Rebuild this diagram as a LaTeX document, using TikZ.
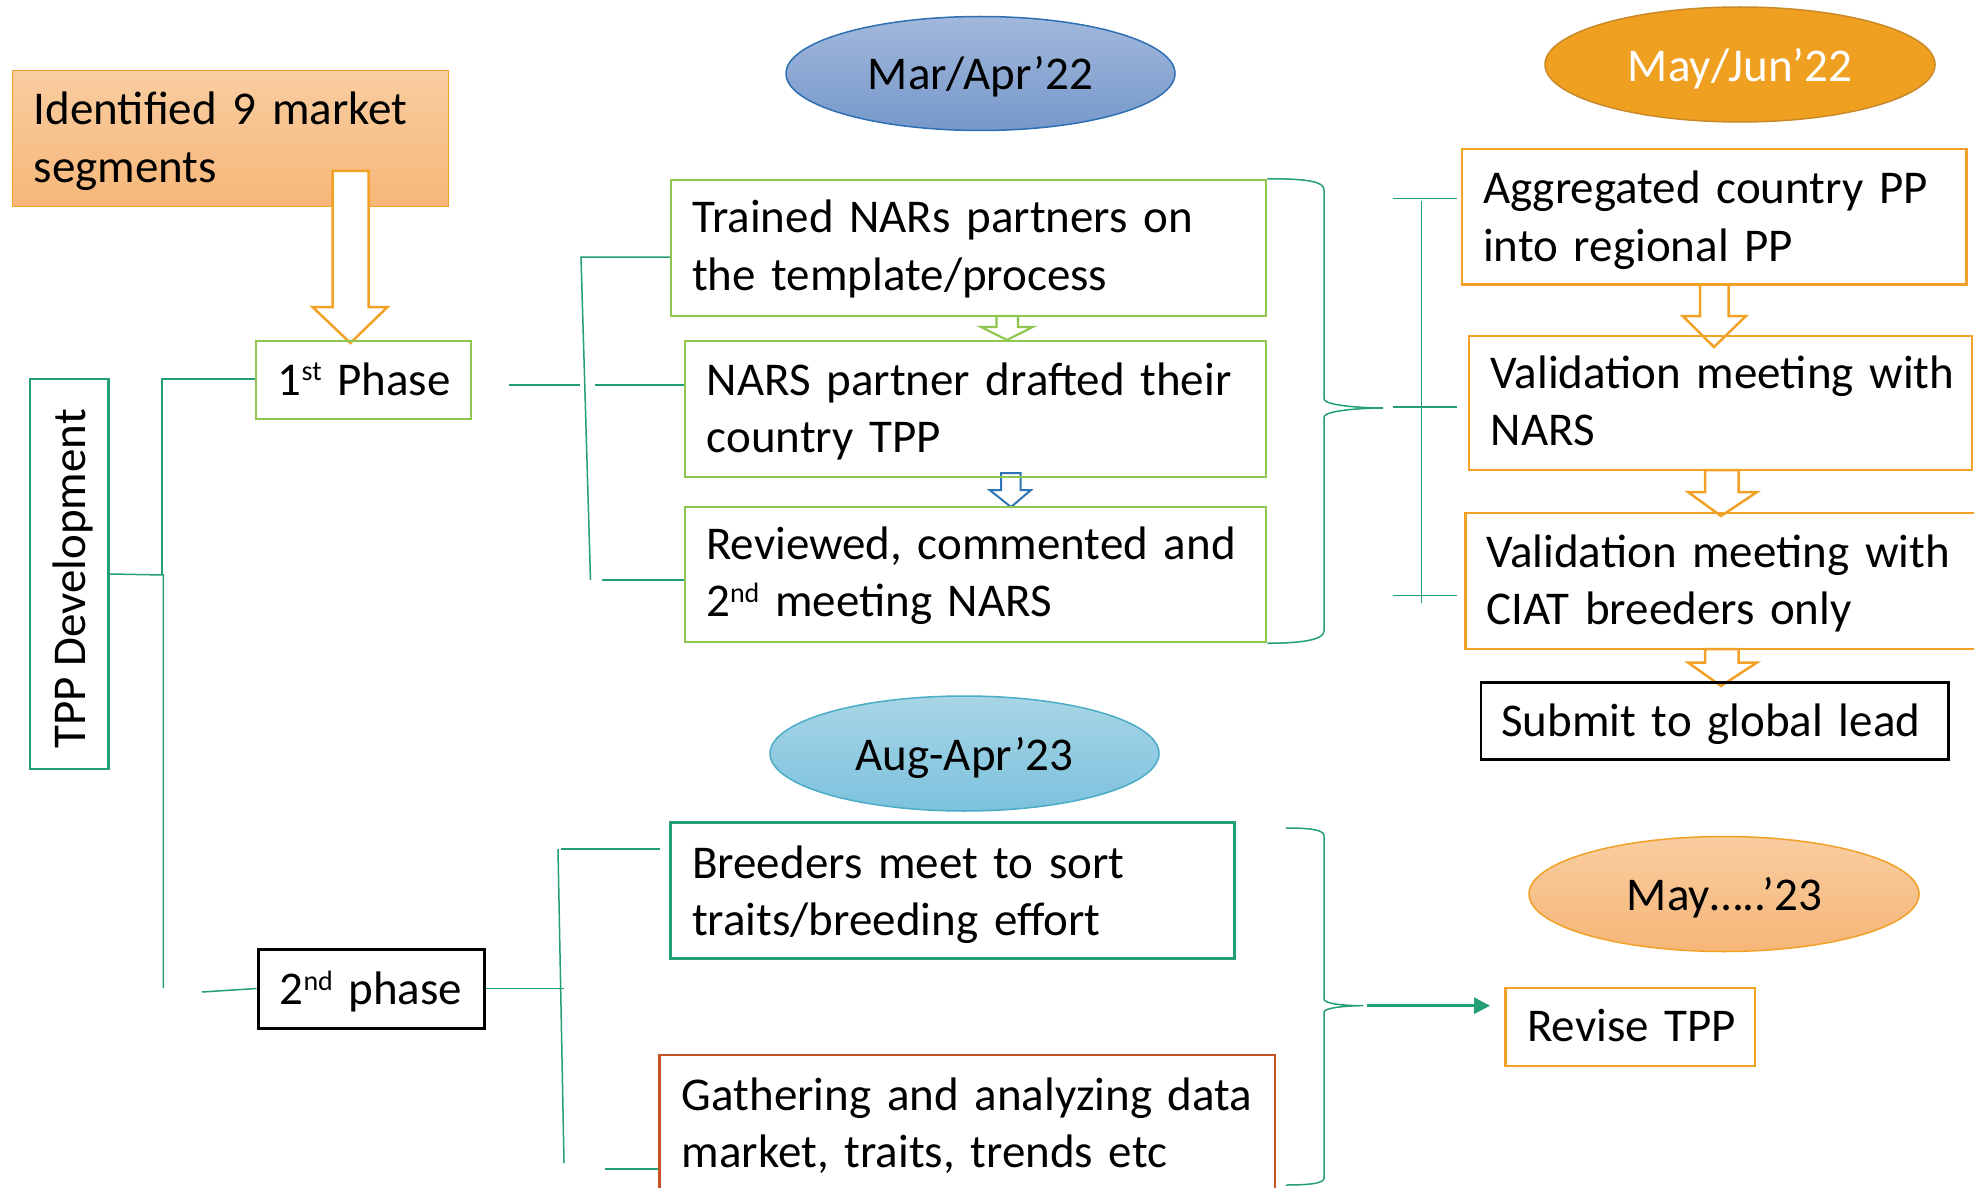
\documentclass[tikz,border=0pt]{standalone}
\usepackage{fontspec}
\setmainfont{Carlito}
\usetikzlibrary{shapes.geometric,arrows.meta,calc}

\definecolor{lnteal}{RGB}{36,158,118}
\definecolor{bxgreen}{RGB}{142,198,78}
\definecolor{bxorange}{RGB}{242,161,39}
\definecolor{bxred}{RGB}{196,84,35}
\definecolor{arblue}{RGB}{46,117,182}
\definecolor{peachtop}{RGB}{249,205,160}
\definecolor{peachbot}{RGB}{246,182,120}
\definecolor{mjfill}{RGB}{240,160,32}
\definecolor{mjline}{RGB}{200,138,40}
\definecolor{matop}{RGB}{162,184,220}
\definecolor{mabot}{RGB}{118,152,202}
\definecolor{maline}{RGB}{47,112,180}
\definecolor{augtop}{RGB}{168,213,229}
\definecolor{augbot}{RGB}{124,194,222}
\definecolor{augline}{RGB}{75,172,198}

\newcommand\dgfont{\fontsize{47}{57.5}\selectfont}
\newcommand\supx[2]{\raisebox{#1pt}{\fontsize{28}{28}\selectfont #2}}
% outlined block arrow: style, shaft left/right, head left/right, top y, neck y, tip x, tip y
\newcommand\blockarrow[9]{%
  \draw[#1] (#2,#6) -- (#3,#6) -- (#3,#7) -- (#5,#7) -- (#8,#9) -- (#4,#7) -- (#2,#7) -- cycle;}

\begin{document}
\begin{tikzpicture}[x=1pt,y=-1pt,font=\dgfont,
  box/.style={draw,rectangle,inner sep=0pt,line width=2.5pt},
  oval/.style={draw,ellipse,inner sep=0pt,line width=1.5pt,minimum width=389pt,minimum height=114pt},
  tx/.style={anchor=base west,inner sep=0pt,text width=620pt,align=left},
  ctx/.style={anchor=base,inner sep=0pt},
  conn/.style={draw=lnteal,line width=1.5pt},
  barrow/.style={fill=white,line width=2.5pt,line join=miter}]
\useasboundingbox (0,0) rectangle (1974,1188);
\fill[white] (0,0) rectangle (1974,1188);

% date ovals
\node[oval,draw=maline,top color=matop,bottom color=mabot] (marapr) at (980.5,73.5) {};
\node[ctx] (marapr-t) at (980.5,90) {Mar/Apr’22};
\node[oval,draw=mjline,fill=mjfill,minimum width=390pt,minimum height=115pt] (mayjun) at (1740,64.5) {};
\node[ctx,text=white] (mayjun-t) at (1740,82) {May/Jun’22};
\node[oval,draw=augline,top color=augtop,bottom color=augbot,minimum height=115pt] (augapr) at (964.5,753.5) {};
\node[ctx] (augapr-t) at (964.5,770) {Aug-Apr’23};
\node[oval,draw=bxorange,top color=peachtop,bottom color=peachbot,minimum width=390pt,minimum height=115pt] (may23) at (1724,894) {};
\node[ctx] (may23-t) at (1724.5,910) {May…..’23};

% market segments
\node[box,line width=1.5pt,draw=bxorange,top color=peachtop,bottom color=peachbot,
  minimum width=436pt,minimum height=136pt] (seg) at (230.5,138.7) {};
\node[tx] (seg-t) at (33.5,125) {Identified 9 market\\segments};

% block arrows
\blockarrow{barrow,draw=bxorange}{332.6}{368.7}{312.5}{387.5}{171}{307}{350.4}{343}
\blockarrow{barrow,draw=bxgreen,line width=2.2pt}{996.5}{1018}{981}{1032.7}{316}{327}{1007}{340}
\blockarrow{barrow,draw=arblue,line width=2pt}{1001}{1020.6}{989.6}{1031}{473}{490}{1011}{507}
\blockarrow{barrow,draw=bxorange}{1700}{1728.7}{1682.7}{1746}{284.5}{316}{1714}{347}
\blockarrow{barrow,draw=bxorange}{1705}{1738.6}{1688}{1757}{470}{492}{1721}{516}
\blockarrow{barrow,draw=bxorange}{1705}{1738.6}{1688}{1757}{649}{662.5}{1721}{686}

% left column
\node[box,draw=lnteal,minimum width=78.7pt,minimum height=390pt] (tpp) at (69.3,574) {};
\node[inner sep=0pt,rotate=90,anchor=base west] (tpp-t) at (85,749) {TPP Development};
\node[box,draw=bxgreen,minimum width=215pt,minimum height=78pt] (p1) at (363.4,380) {};
\node[tx] (p1-t) at (277.7,395) {1\supx{15}{st} Phase};
\node[box,draw=black,line width=3pt,minimum width=226pt,minimum height=79pt] (p2) at (371,988.5) {};
\node[tx] (p2-t) at (279.5,1004) {2\supx{14}{nd} phase};

% first phase steps
\node[box,draw=bxgreen,minimum width=595pt,minimum height=136pt] (trained) at (968.5,248) {};
\node[tx] (trained-t) at (692,233) {Trained NARs partners on\\the template/process};
\node[box,draw=bxgreen,minimum width=581pt,minimum height=136pt] (nars) at (975.5,409) {};
\node[tx] (nars-t) at (706.6,395) {NARS partner drafted their\\country TPP};
\node[box,draw=bxgreen,minimum width=581pt,minimum height=135pt] (reviewed) at (975.5,574.5) {};
\node[tx] (reviewed-t) at (706,559) {Reviewed, commented and\\2\supx{14}{nd} meeting NARS};

% regional steps
\node[box,draw=bxorange,minimum width=504.5pt,minimum height=135.5pt] (agg) at (1714.25,216.75) {};
\node[tx] (agg-t) at (1483,204) {Aggregated country PP\\into regional PP};
\node[box,draw=bxorange,minimum width=503pt,minimum height=134pt] (valn) at (1720.5,403) {};
\node[tx] (valn-t) at (1490.5,388) {Validation meeting with\\NARS};
\node[box,draw=bxorange,minimum width=519.4pt,minimum height=136pt] (valc) at (1725.3,581) {};
\node[tx] (valc-t) at (1486,567) {Validation meeting with\\CIAT breeders only};
\node[box,draw=black,line width=2.2pt,minimum width=467.8pt,minimum height=77pt] (submit) at (1714.5,721) {};
\node[tx] (submit-t) at (1501,736) {Submit to global lead};

% second phase steps
\node[box,draw=lnteal,line width=3pt,minimum width=563.3pt,minimum height=135.6pt] (breed) at (952.35,890.5) {};
\node[tx] (breed-t) at (692,878) {Breeders meet to sort\\traits/breeding effort};
\node[box,draw=bxred,minimum width=615.5pt,minimum height=140pt] (gather) at (967.25,1125) {};
\node[tx] (gather-t) at (681.7,1110) {Gathering and analyzing data\\market, traits, trends etc};
\node[box,draw=bxorange,minimum width=249.5pt,minimum height=78pt] (revise) at (1630.25,1027) {};
\node[tx] (revise-t) at (1527,1041.7) {Revise TPP};

% trunk from TPP Development to the two phases
\coordinate (trA) at (162,379);
\coordinate (trB) at (162,575);
\coordinate (trC) at (163.3,575);
\coordinate (trD) at (163.3,988);
\coordinate (p2in) at (202,992);
\draw[conn] (trA -| p1.west) -- (trA) -- (trB);
\draw[conn] (tpp.east) -- (trC) -- (trD);
\draw[conn] (p2in) -- (p2.west);

% first phase fan-out
\coordinate (fA) at (509,385);
\coordinate (fB) at (580,385);
\coordinate (fC) at (595,385);
\coordinate (fTop) at (581,257);
\coordinate (fBot) at (590.5,580);
\coordinate (fBotIn) at (602,580);
\draw[conn] (fA) -- (fB);
\draw[conn] (fC) -- (fC -| nars.west);
\draw[conn] (fTop -| trained.west) -- (fTop) -- (fBot);
\draw[conn] (fBotIn) -- (fBotIn -| reviewed.west);

% brace gathering the first phase steps
\coordinate (brA) at (1383,408);
\draw[conn] (trained.north east) .. controls +(38,0) and (1324,181) .. (1324,190)
  -- (1324,399) .. controls (1324,405) and (1358,408) .. (brA)
  .. controls (1358,408) and (1324,411) .. (1324,417)
  -- (1324,631) .. controls (1324,639) and +(38,0) .. (reviewed.south east);

% bracket fanning to the regional steps
\coordinate (rbTop) at (1421.7,200.7);
\coordinate (rbBot) at (1421.7,603);
\coordinate (rh1) at (1392.5,198.3);
\coordinate (rh2) at (1392.5,407);
\coordinate (rh3) at (1392.5,595.7);
\draw[conn] (rbTop) -- (rbBot);
\draw[conn] (rh1) -- ([xshift=-4pt]rh1 -| agg.west);
\draw[conn] (rh2) -- ([xshift=-11pt]rh2 -| valn.west);
\draw[conn] (rh3) -- ([xshift=-7.6pt]rh3 -| valc.west);

% second phase fan-out
\coordinate (sA) at (564,988.5);
\coordinate (sTop) at (558,849);
\coordinate (sTopIn) at (561,849);
\coordinate (sBot) at (564,1163);
\coordinate (sBotIn) at (605,1169);
\draw[conn] (p2.east) -- (sA);
\draw[conn] (sTop) -- (sBot);
\draw[conn] (sTopIn) -- ([xshift=-9pt]sTopIn -| breed.west);
\draw[conn] (sBotIn) -- (sBotIn -| gather.west);

% brace gathering the second phase steps, leading to the revision
\coordinate (b2top) at (1286,828);
\coordinate (b2bot) at (1286,1185);
\coordinate (b2tip) at (1363.3,1005.7);
\coordinate (b2out) at (1366.7,1005.7);
\coordinate (rvin) at (1490,1005.7);
\draw[conn] (b2top) .. controls (1312,828) and (1324,830) .. (1324,836)
  -- (1324,999) .. controls (1324,1004) and (1345,1005.7) .. (b2tip)
  .. controls (1345,1005.7) and (1324,1008) .. (1324,1012)
  -- (1324,1178) .. controls (1324,1183) and (1312,1185) .. (b2bot);
\draw[conn,line width=3pt,-{Triangle[length=16pt,width=16pt]}] (b2out) -- (rvin);
\end{tikzpicture}
\end{document}
